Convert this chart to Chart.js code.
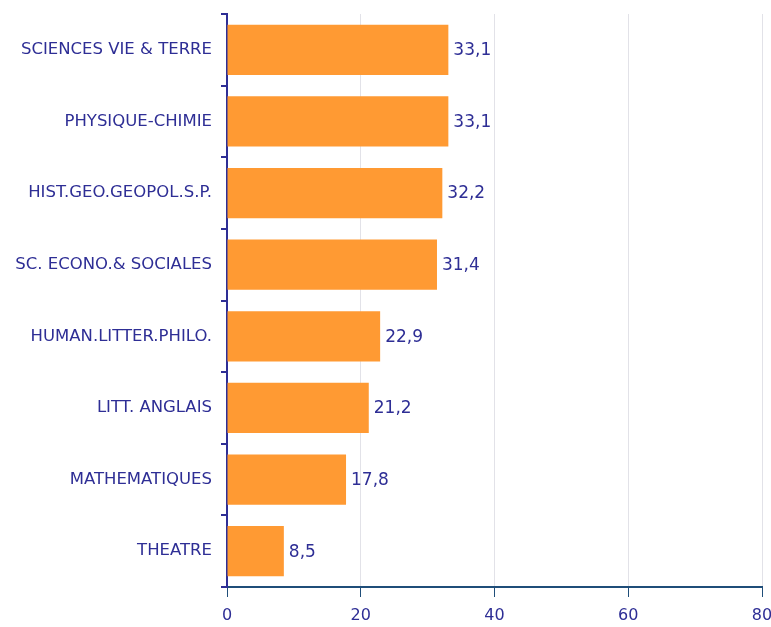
<!DOCTYPE html>
<html>
<head>
<meta charset="utf-8">
<script src="https://cdn.jsdelivr.net/npm/chart.js@4/dist/chart.umd.min.js"></script>
<style>
	html, body { margin: 0; padding: 0; background: #ffffff; }
	#wrap { width: 771px; height: 627px; }
</style>
</head>
<body>
<div id="wrap"><canvas id="chart"></canvas></div>
<script>
const subjects = [
	"SCIENCES VIE & TERRE",
	"PHYSIQUE-CHIMIE",
	"HIST.GEO.GEOPOL.S.P.",
	"SC. ECONO.& SOCIALES",
	"HUMAN.LITTER.PHILO.",
	"LITT. ANGLAIS",
	"MATHEMATIQUES",
	"THEATRE"
];
const shares = [33.1, 33.1, 32.2, 31.4, 22.9, 21.2, 17.8, 8.5];
const xTicks = [0, 20, 40, 60, 80];

const navy = "#2e2e95";
const fontFamily = "'DejaVu Sans', Verdana, sans-serif";

const valueLabels = {
	id: "valueLabels",
	afterDatasetsDraw(chart) {
		const ctx = chart.ctx;
		const meta = chart.getDatasetMeta(0);
		ctx.save();
		ctx.font = "17px " + fontFamily;
		ctx.fillStyle = navy;
		ctx.textAlign = "left";
		ctx.textBaseline = "middle";
		meta.data.forEach((bar, i) => {
			const text = shares[i].toFixed(1).replace(".", ",");
			ctx.fillText(text, bar.x + 5, bar.y + 1);
		});
		ctx.restore();
	}
};

const context = document.getElementById("chart").getContext("2d");
const chart = new Chart(context, {
	type: "bar",
	data: {
		labels: subjects,
		datasets: [
			{
				data: shares,
				backgroundColor: "#ff9a33",
				borderWidth: 0,
				barPercentage: 0.7,
				categoryPercentage: 1.0
			}
		]
	},
	options: {
		indexAxis: "y",
		responsive: true,
		maintainAspectRatio: false,
		animation: false,
		layout: {
			padding: { top: 14, right: 9, bottom: 0, left: 0 }
		},
		plugins: {
			legend: { display: false },
			tooltip: { enabled: false }
		},
		scales: {
			x: {
				min: 0,
				max: 80,
				afterBuildTicks: axis => {
					axis.ticks = xTicks.map(v => ({ value: v }));
				},
				afterFit: axis => {
					axis.height = 40;
					axis.paddingLeft = 0;
					axis.paddingRight = 0;
				},
				grid: {
					color: "#e2e2e8",
					lineWidth: 1,
					tickColor: "#1f4e79",
					tickLength: 10,
					drawTicks: true
				},
				border: { color: "#1f4e79", width: 2 },
				ticks: {
					color: navy,
					padding: 9,
					font: { family: fontFamily, size: 16 }
				}
			},
			y: {
				afterFit: axis => {
					axis.width = 227;
					axis.paddingTop = 0;
					axis.paddingBottom = 0;
				},
				grid: {
					drawOnChartArea: false,
					drawTicks: true,
					tickLength: 6,
					tickColor: navy,
					lineWidth: 2
				},
				border: { color: navy, width: 2 },
				ticks: {
					color: navy,
					padding: 9,
					font: { family: fontFamily, size: 16.5 }
				}
			}
		}
	},
	plugins: [valueLabels]
});
</script>
</body>
</html>
